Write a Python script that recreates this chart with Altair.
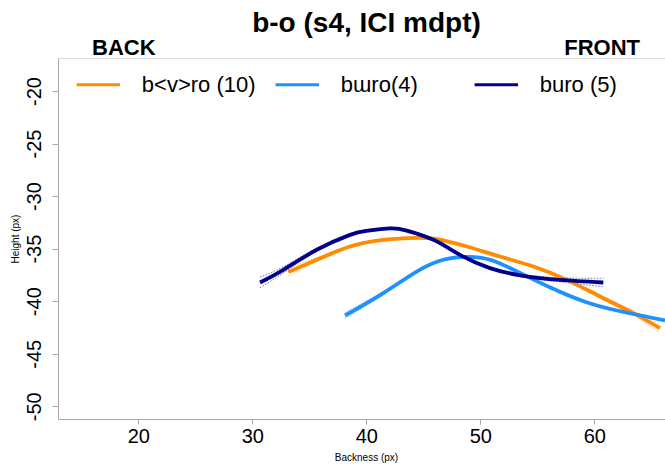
import altair as alt
import pandas as pd

# ---- data ----
series_names = ["b<v>ro (10)", "bɯro(4)", "buro (5)"]
series_colors = ["#FF8C00", "#1E90FF", "#00008B"]

orange_x = [33.16, 35.65, 38.57, 41.49, 44.42, 46.20, 48.81, 51.73, 54.65, 57.58, 60.50, 63.42, 65.76]
orange_y = [-37.23, -36.06, -34.80, -34.16, -33.97, -34.10, -34.80, -35.75, -36.70, -37.97, -39.55, -41.13, -42.56]
orange_hi = [-36.83, -35.86, -34.68, -34.06, -33.87, -34.00, -34.70, -35.65, -36.60, -37.85, -39.40, -40.90, -42.16]
orange_lo = [-37.63, -36.26, -34.92, -34.26, -34.07, -34.20, -34.90, -35.85, -36.80, -38.09, -39.70, -41.36, -42.96]

lblue_x = [38.13, 41.49, 44.42, 46.75, 48.81, 50.85, 53.31, 56.20, 59.18, 62.08, 66.20]
lblue_y = [-41.36, -39.23, -37.18, -36.06, -35.78, -36.06, -37.21, -38.73, -40.06, -40.91, -41.82]
lblue_hi = [-41.06, -39.08, -37.08, -35.96, -35.68, -35.96, -37.11, -38.63, -39.96, -40.81, -41.67]
lblue_lo = [-41.66, -39.38, -37.28, -36.16, -35.88, -36.16, -37.31, -38.83, -40.16, -41.01, -41.97]

navy_x = [30.68, 32.72, 35.65, 38.57, 40.00, 42.10, 43.54, 45.88, 48.22, 50.85, 53.77, 56.99, 60.79]
navy_y = [-38.22, -37.02, -35.11, -33.69, -33.31, -33.07, -33.28, -34.16, -35.59, -36.85, -37.59, -37.97, -38.22]
navy_hi = [-37.72, -36.72, -34.96, -33.59, -33.21, -32.97, -33.18, -34.06, -35.49, -36.75, -37.47, -37.77, -37.82]
navy_lo = [-38.72, -37.32, -35.26, -33.79, -33.41, -33.17, -33.38, -34.26, -35.69, -36.95, -37.71, -38.17, -38.62]

x_ticks = [20, 30, 40, 50, 60]
y_ticks = [-20, -25, -30, -35, -40, -45, -50]

chart_title = "b-o (s4, ICI mdpt)"
left_label = "BACK"
right_label = "FRONT"

rows, band_rows = [], []
for name, xs, ys, his, los in zip(series_names,
                                  [orange_x, lblue_x, navy_x],
                                  [orange_y, lblue_y, navy_y],
                                  [orange_hi, lblue_hi, navy_hi],
                                  [orange_lo, lblue_lo, navy_lo]):
    for i, (xv, yv, hv, lv) in enumerate(zip(xs, ys, his, los)):
        rows.append({"series": name, "x": xv, "y": yv, "order": i})
        band_rows.append({"bseries": name, "band": "hi", "x": xv, "y": hv, "order": i})
        band_rows.append({"bseries": name, "band": "lo", "x": xv, "y": lv, "order": i})
df = pd.DataFrame(rows)
df_band = pd.DataFrame(band_rows)

FONT = "Liberation Sans"
AXIS_GRAY = "#aaaaaa"

xscale = alt.Scale(domain=[12.956, 66.20], nice=False, zero=False)
yscale = alt.Scale(domain=[-51.21, -16.86], nice=False, zero=False)

x_enc = alt.X("x:Q", scale=xscale,
              axis=alt.Axis(values=x_ticks, title="Backness (px)", grid=False,
                            domainColor=AXIS_GRAY, tickColor=AXIS_GRAY, tickSize=5,
                            labelFontSize=20, labelFont=FONT, labelColor="black", labelPadding=2,
                            labelFlush=False,
                            titleFontSize=10, titleFont=FONT, titleFontWeight="normal", titleColor="black",
                            titleX=308, titleY=38, titleBaseline="middle", titleAnchor="start",
                            titleAlign="center"))
y_enc = alt.Y("y:Q", scale=yscale,
              axis=alt.Axis(values=y_ticks, title="Height (px)", grid=False,
                            domainColor=AXIS_GRAY, tickColor=AXIS_GRAY, tickSize=6,
                            labelFontSize=20, labelFont=FONT, labelColor="black", labelPadding=8,
                            labelAngle=270, labelAlign="center", labelBaseline="bottom",
                            labelFlush=False, labelExpr="toString(datum.value)",
                            titleFontSize=10, titleFont=FONT, titleFontWeight="normal", titleColor="black",
                            titleX=-43, titleY=180.5, titleAngle=270, titleAlign="center",
                            titleBaseline="middle", titleAnchor="start"))

bands = alt.Chart(df_band).mark_line(strokeWidth=1, strokeDash=[1.5, 1.5], opacity=0.55,
                                     interpolate="natural", clip=True).encode(
    x=x_enc, y=y_enc,
    color=alt.Color("bseries:N", scale=alt.Scale(domain=series_names, range=series_colors),
                    legend=None),
    detail="band:N",
    order="order:Q",
)

lines = alt.Chart(df).mark_line(strokeWidth=3.8, interpolate="natural", clip=True).encode(
    x=x_enc, y=y_enc,
    color=alt.Color("series:N", scale=alt.Scale(domain=series_names, range=series_colors),
                    legend=alt.Legend(orient="none", legendX=16.8, legendY=3, direction="horizontal",
                                      columns=3, gridAlign="all", symbolType="stroke",
                                      symbolSize=1884, symbolStrokeWidth=3, labelFontSize=22,
                                      labelFont=FONT, labelColor="black", labelOffset=20,
                                      columnPadding=13, title=None, labelLimit=0, padding=0)),
    order="order:Q",
)

ann = pd.DataFrame({"a": [0]})
title_mark = alt.Chart(ann).mark_text(text=chart_title, font=FONT, fontSize=28, fontWeight="bold",
                                      align="center", baseline="alphabetic", color="black").encode(
    x=alt.value(308.5), y=alt.value(-26.5))
back = alt.Chart(ann).mark_text(text=left_label, font=FONT, fontSize=22, fontWeight="bold",
                                 align="left", baseline="alphabetic", color="black").encode(
    x=alt.value(34), y=alt.value(-3))
front = alt.Chart(ann).mark_text(text=right_label, font=FONT, fontSize=22, fontWeight="bold",
                                  align="right", baseline="alphabetic", color="black").encode(
    x=alt.value(582), y=alt.value(-3))

chart = alt.layer(bands, lines, title_mark, back, front).resolve_scale(
    color="independent"
).properties(
    width=607, height=361,
    autosize=alt.AutoSizeParams(type="none"),
    padding={"left": 58, "top": 58, "right": 0, "bottom": 53},
).configure_view(stroke=None).configure(background="white")

chart.save("out.html", embed_options={"renderer": "svg", "actions": False})
